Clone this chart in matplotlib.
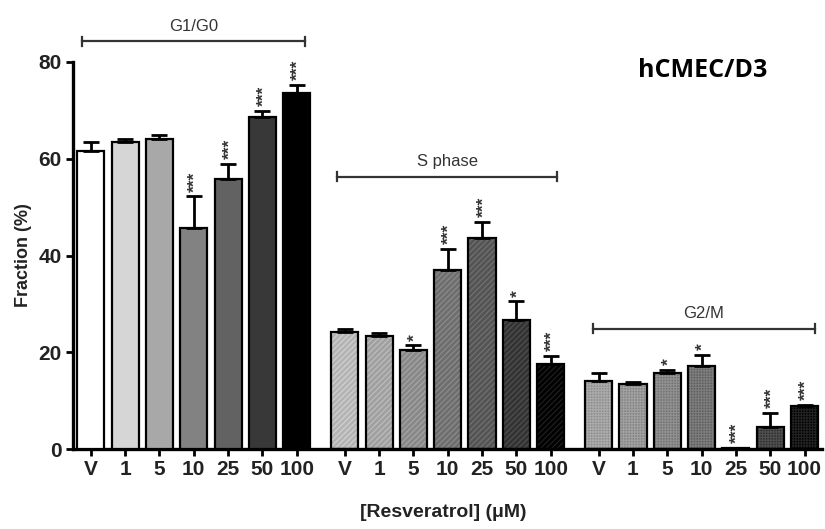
import matplotlib
matplotlib.use("Agg")
import matplotlib.pyplot as plt
import matplotlib.colors as mcolors
import numpy as np

doses = ["V", "1", "5", "10", "25", "50", "100"]
phases = ["G1/G0", "S phase", "G2/M"]

g1_mean = [61.6, 63.5, 64.1, 45.6, 55.9, 68.7, 73.6]
g1_err = [1.9, 0.6, 0.9, 6.6, 3.1, 1.2, 1.7]
s_mean = [24.1, 23.3, 20.4, 37.1, 43.7, 26.6, 17.5]
s_err = [0.8, 0.6, 1.0, 4.3, 3.3, 3.9, 1.7]
g2_mean = [14.0, 13.4, 15.7, 17.1, 0.2, 4.5, 8.9]
g2_err = [1.7, 0.4, 0.6, 2.3, 0.0, 2.9, 0.3]

g1_sig = ["", "", "", "***", "***", "***", "***"]
s_sig = ["", "", "*", "***", "***", "*", "***"]
g2_sig = ["", "", "*", "*", "***", "***", "***"]

means = [g1_mean, s_mean, g2_mean]
errs = [g1_err, s_err, g2_err]
sigs = [g1_sig, s_sig, g2_sig]

shades = [
    ["#ffffff", "#d6d6d6", "#a8a8a8", "#828282", "#626262", "#383838", "#000000"],
    ["#b4b4b4", "#a0a0a0", "#888888", "#6e6e6e", "#545454", "#333333", "#000000"],
    ["#8c8c8c", "#828282", "#727272", "#5e5e5e", "#4e4e4e", "#303030", "#000000"],
]
hatches = [None, "//////", "++++++"]


def lighter(c, amt):
    r, g, b = mcolors.to_rgb(c)
    return (min(1, r + amt), min(1, g + amt), min(1, b + amt))


plt.rcParams["hatch.linewidth"] = 0.8
txtfont = ["Liberation Sans", "DejaVu Sans"]

fig = plt.figure(figsize=(8.25, 5.29), dpi=100)
ax = fig.add_axes([0.0885, 0.1512, 0.9075, 0.7316])

gap = 7.4
bw = 0.79
all_pos = []
for g in range(3):
    pos = np.arange(7) + g * gap
    all_pos.extend(pos)
    for i in range(7):
        m = means[g][i]
        fc = shades[g][i]
        if hatches[g]:
            hc = lighter(fc, 0.12) if i < 6 else "#222222"
            ax.bar(pos[i], m, bw, color=fc, edgecolor=hc, linewidth=0,
                   hatch=hatches[g], zorder=2)
            ax.bar(pos[i], m, bw, facecolor="none", edgecolor="black",
                   linewidth=1.6, zorder=3)
        else:
            ax.bar(pos[i], m, bw, color=fc, edgecolor="black",
                   linewidth=1.6, zorder=3)
        if errs[g][i] > 0:
            ax.errorbar(pos[i], m, yerr=[[0], [errs[g][i]]], fmt="none",
                        ecolor="black", elinewidth=2, capsize=6,
                        capthick=2, zorder=4)
        s = sigs[g][i]
        if s:
            ax.text(pos[i] + 0.05, m + errs[g][i] + 1.0, s, rotation=90,
                    ha="center", va="bottom", fontsize=12.5, fontweight="bold",
                    color="#333333", family=txtfont)

# phase brackets
brackets = [(-0.26, 6.24, 84.3), (7.17, 13.6, 56.3), (14.64, 21.1, 24.9)]
for (x0, x1, yb), name in zip(brackets, phases):
    ax.plot([x0, x1], [yb, yb], color="#333333", lw=1.6, clip_on=False)
    ax.plot([x0, x0], [yb - 0.9, yb + 0.9], color="#333333", lw=1.6,
            clip_on=False)
    ax.plot([x1, x1], [yb - 0.9, yb + 0.9], color="#333333", lw=1.6,
            clip_on=False)
    ax.text((x0 + x1) / 2, yb + 1.5, name, ha="center", va="bottom",
            fontsize=12, color="#333333", family=txtfont, clip_on=False)

ax.set_xlim(-0.52, 21.3)
ax.set_ylim(0, 80)
ax.set_yticks([0, 20, 40, 60, 80])
ax.set_xticks(all_pos)
ax.set_xticklabels(doses * 3)
for lab in ax.get_xticklabels() + ax.get_yticklabels():
    lab.set_fontsize(15)
    lab.set_fontweight("bold")
    lab.set_family(txtfont)
    lab.set_color("#222222")

for sp in ["top", "right"]:
    ax.spines[sp].set_visible(False)
ax.spines["left"].set_linewidth(2.4)
ax.spines["bottom"].set_linewidth(2.4)
ax.tick_params(axis="both", width=2, length=5, direction="out", pad=3)

ax.set_ylabel("Fraction (%)", fontsize=13, fontweight="bold",
              family=txtfont, color="#222222", labelpad=5)
fig.text(0.537, 0.032, "[Resveratrol] (μM)", ha="center", va="center",
         fontsize=14, fontweight="bold", family=txtfont, color="#222222")
fig.text(0.852, 0.867, "hCMEC/D3", ha="center", va="center", fontsize=18,
         fontweight="bold", family="Open Sans")

fig.savefig("out.png", dpi=100)
